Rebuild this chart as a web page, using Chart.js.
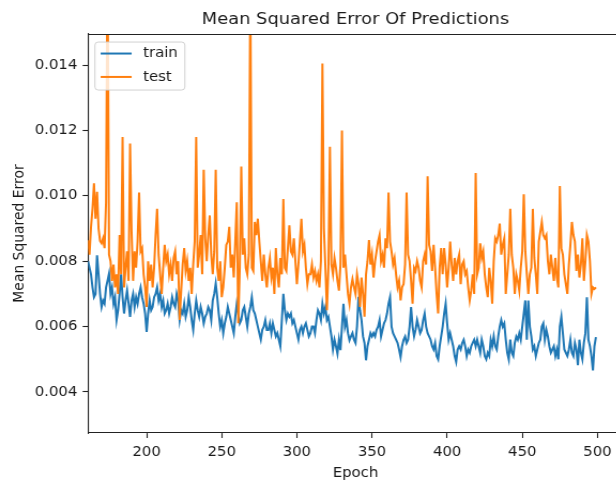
<!DOCTYPE html>
<html>
<head>
<meta charset="utf-8">
<script src="https://cdn.jsdelivr.net/npm/chart.js@4.4.0/dist/chart.umd.min.js"></script>
<style>
html,body{margin:0;padding:0;overflow:hidden;background:#fff;width:616px;height:486px;}
canvas{display:block;transform:scaleX(1.07);transform-origin:0 0;}
</style>
</head>
<body>
<canvas id="c" width="600" height="486"></canvas>
<script>
const firstEpoch = 161;
const xTicks = [200, 250, 300, 350, 400, 450, 500];
const yTicks = [0.004, 0.006, 0.008, 0.010, 0.012, 0.014];
const seriesNames = ["train", "test"];

const trainMSE = [
0.00800,0.00780,0.00760,0.00720,0.00690,0.00700,0.00818,0.00760,0.00700,0.00660,
0.00680,0.00670,0.00720,0.00740,0.00762,0.00700,0.00720,0.00670,0.00690,0.00620,
0.00650,0.00700,0.00760,0.00690,0.00640,0.00680,0.00710,0.00670,0.00630,0.00680,
0.00700,0.00660,0.00690,0.00670,0.00700,0.00720,0.00690,0.00670,0.00640,0.00584,
0.00640,0.00680,0.00650,0.00660,0.00690,0.00700,0.00720,0.00680,0.00700,0.00660,
0.00680,0.00640,0.00650,0.00670,0.00640,0.00660,0.00690,0.00670,0.00660,0.00700,
0.00680,0.00620,0.00650,0.00640,0.00670,0.00630,0.00650,0.00690,0.00660,0.00620,
0.00590,0.00640,0.00680,0.00650,0.00630,0.00660,0.00640,0.00610,0.00630,0.00640,
0.00660,0.00650,0.00620,0.00680,0.00700,0.00732,0.00690,0.00640,0.00600,0.00620,
0.00580,0.00610,0.00630,0.00660,0.00640,0.00620,0.00600,0.00580,0.00630,0.00670,
0.00640,0.00610,0.00620,0.00650,0.00660,0.00630,0.00600,0.00640,0.00660,0.00690,
0.00650,0.00640,0.00620,0.00600,0.00580,0.00560,0.00590,0.00600,0.00620,0.00590,
0.00590,0.00610,0.00580,0.00610,0.00590,0.00570,0.00580,0.00560,0.00540,0.00620,
0.00700,0.00650,0.00620,0.00640,0.00630,0.00640,0.00610,0.00620,0.00600,0.00580,
0.00560,0.00590,0.00600,0.00580,0.00600,0.00610,0.00590,0.00570,0.00580,0.00600,
0.00600,0.00580,0.00620,0.00650,0.00640,0.00620,0.00670,0.00640,0.00660,0.00620,
0.00630,0.00600,0.00570,0.00530,0.00560,0.00540,0.00517,0.00560,0.00528,0.00600,
0.00670,0.00600,0.00620,0.00580,0.00558,0.00570,0.00580,0.00560,0.00550,0.00600,
0.00691,0.00650,0.00620,0.00570,0.00550,0.00497,0.00540,0.00560,0.00580,0.00570,
0.00580,0.00570,0.00590,0.00600,0.00620,0.00570,0.00590,0.00610,0.00620,0.00640,
0.00670,0.00690,0.00600,0.00580,0.00570,0.00560,0.00550,0.00530,0.00507,0.00540,
0.00560,0.00570,0.00550,0.00560,0.00600,0.00660,0.00600,0.00570,0.00590,0.00620,
0.00600,0.00580,0.00590,0.00620,0.00640,0.00600,0.00580,0.00570,0.00560,0.00540,
0.00530,0.00550,0.00510,0.00500,0.00540,0.00570,0.00600,0.00640,0.00670,0.00610,
0.00560,0.00580,0.00560,0.00540,0.00510,0.00492,0.00530,0.00540,0.00530,0.00550,
0.00560,0.00540,0.00510,0.00530,0.00520,0.00540,0.00550,0.00560,0.00540,0.00560,
0.00540,0.00520,0.00560,0.00540,0.00510,0.00500,0.00520,0.00510,0.00560,0.00540,
0.00570,0.00540,0.00530,0.00570,0.00600,0.00620,0.00600,0.00610,0.00560,0.00520,
0.00500,0.00560,0.00520,0.00510,0.00550,0.00570,0.00560,0.00580,0.00560,0.00600,
0.00640,0.00680,0.00560,0.00680,0.00600,0.00570,0.00530,0.00540,0.00510,0.00530,
0.00550,0.00560,0.00600,0.00610,0.00560,0.00590,0.00570,0.00540,0.00520,0.00530,
0.00540,0.00510,0.00530,0.00500,0.00600,0.00630,0.00580,0.00530,0.00520,0.00510,
0.00530,0.00560,0.00520,0.00510,0.00550,0.00530,0.00482,0.00560,0.00520,0.00500,
0.00550,0.00580,0.00690,0.00560,0.00540,0.00510,0.00466,0.00540,0.00568
];

const testMSE = [
0.00864,0.00820,0.00905,0.00960,0.01038,0.00930,0.01012,0.00900,0.00862,0.00855,
0.00870,0.00840,0.00980,0.01750,0.00820,0.00800,0.00740,0.00790,0.00720,0.00760,
0.00700,0.00880,0.00760,0.01180,0.00720,0.00780,0.00830,0.00740,0.01160,0.00890,
0.00740,0.00830,0.00780,0.00860,0.01010,0.00830,0.00840,0.00760,0.00720,0.00660,
0.00800,0.00740,0.00790,0.00720,0.00780,0.00880,0.00960,0.00820,0.00760,0.00700,
0.00780,0.00850,0.00800,0.00820,0.00760,0.00790,0.00740,0.00810,0.00830,0.00760,
0.00800,0.00620,0.00710,0.00790,0.00840,0.00770,0.00800,0.00740,0.00780,0.00700,
0.00790,0.00860,0.01180,0.00780,0.00820,0.00880,0.00760,0.01080,0.00870,0.00800,
0.00880,0.00940,0.00820,0.00760,0.00830,0.01080,0.00780,0.00740,0.00800,0.00690,
0.00720,0.00780,0.00850,0.00860,0.00905,0.00780,0.00820,0.00750,0.00860,0.00980,
0.00610,0.00780,0.01090,0.00820,0.00870,0.00780,0.00760,0.00820,0.01650,0.00780,
0.00770,0.00920,0.00880,0.00930,0.00860,0.00800,0.00740,0.00820,0.00760,0.00720,
0.00780,0.00810,0.00750,0.00780,0.00700,0.00840,0.00760,0.00720,0.00810,0.00760,
0.00990,0.00780,0.00770,0.00840,0.00910,0.00830,0.00820,0.00870,0.00800,0.00730,
0.00790,0.00860,0.00930,0.00830,0.00850,0.00780,0.00730,0.00760,0.00760,0.00790,
0.00750,0.00770,0.00740,0.00760,0.00720,0.00800,0.01405,0.00900,0.00780,0.00650,
0.00780,0.01150,0.00790,0.00760,0.00810,0.00780,0.00740,0.00710,0.00790,0.01200,
0.00780,0.00820,0.00760,0.00700,0.00670,0.00720,0.00745,0.00720,0.00700,0.00760,
0.00730,0.00660,0.00750,0.00700,0.00630,0.00760,0.00800,0.00865,0.00790,0.00820,
0.00750,0.00800,0.00830,0.00860,0.00880,0.00800,0.00820,0.00780,0.00870,0.00840,
0.01010,0.00860,0.00830,0.00790,0.00810,0.00760,0.00720,0.00740,0.00680,0.00720,
0.00730,0.00790,0.01010,0.00820,0.00800,0.00740,0.00670,0.00780,0.00770,0.00800,
0.00780,0.00740,0.00720,0.00800,0.00820,0.00790,0.01060,0.00850,0.00830,0.00770,
0.00850,0.00780,0.00700,0.00640,0.00780,0.00840,0.00760,0.00840,0.00790,0.00720,
0.00780,0.00860,0.00790,0.00740,0.00810,0.00760,0.00800,0.00820,0.00730,0.00790,
0.00800,0.00760,0.00770,0.00720,0.00680,0.00710,0.00760,0.00700,0.01070,0.00760,
0.00780,0.00855,0.00810,0.00830,0.00760,0.00720,0.00690,0.00780,0.00740,0.00670,
0.00800,0.00870,0.00860,0.00880,0.00915,0.00820,0.00850,0.00870,0.00700,0.00760,
0.00820,0.00960,0.00820,0.00780,0.00700,0.00760,0.00740,0.00710,0.00780,0.00830,
0.01005,0.00830,0.00760,0.00700,0.00760,0.00780,0.00960,0.00810,0.00760,0.00700,
0.00860,0.00890,0.00920,0.00880,0.00870,0.00880,0.00800,0.00760,0.00820,0.00780,
0.00740,0.00810,0.00750,0.00720,0.01030,0.00840,0.00820,0.00760,0.00730,0.00700,
0.00790,0.00850,0.00920,0.00880,0.00860,0.00770,0.00820,0.00750,0.00790,0.00870,
0.00740,0.00800,0.00880,0.00860,0.00800,0.00700,0.00720,0.00715,0.00720
];

const colors = { train: '#1f77b4', test: '#ff7f0e' };
const FONT = 'DejaVu Sans';
const TXT = '#1a1a1a';
const AX = '#222';

function toPoints(arr) { return arr.map((v, i) => ({ x: firstEpoch + i, y: v })); }

const framePlugin = {
  id: 'frame',
  afterDatasetsDraw(chart) {
    const { ctx, chartArea: a } = chart;
    ctx.save();
    ctx.strokeStyle = AX;
    ctx.lineWidth = 1.1;
    ctx.beginPath();
    ctx.moveTo(a.left, a.top + 0.5);
    ctx.lineTo(a.right, a.top + 0.5);
    ctx.moveTo(a.right - 0.5, a.top);
    ctx.lineTo(a.right - 0.5, a.bottom);
    ctx.stroke();
    // legend (upper left, inside the axes)
    const x0 = a.left + 6.5, y0 = a.top + 8, w = 84, h = 48, r = 3;
    ctx.beginPath();
    ctx.moveTo(x0 + r, y0);
    ctx.arcTo(x0 + w, y0, x0 + w, y0 + h, r);
    ctx.arcTo(x0 + w, y0 + h, x0, y0 + h, r);
    ctx.arcTo(x0, y0 + h, x0, y0, r);
    ctx.arcTo(x0, y0, x0 + w, y0, r);
    ctx.closePath();
    ctx.fillStyle = 'rgba(255,255,255,0.8)';
    ctx.fill();
    ctx.strokeStyle = 'rgba(204,204,204,0.9)';
    ctx.lineWidth = 1;
    ctx.stroke();
    ctx.font = '13.9px "' + FONT + '"';
    ctx.textBaseline = 'middle';
    ctx.textAlign = 'left';
    seriesNames.forEach((name, i) => {
      const yy = y0 + 11.5 + i * 23.4;
      ctx.strokeStyle = colors[name];
      ctx.lineWidth = 2;
      ctx.beginPath();
      ctx.moveTo(x0 + 5.3, yy);
      ctx.lineTo(x0 + 34.3, yy);
      ctx.stroke();
      ctx.fillStyle = TXT;
      ctx.fillText(name, x0 + 45, yy);
    });
    ctx.restore();
  }
};

new Chart(document.getElementById('c'), {
  type: 'line',
  data: {
    datasets: [
      { label: seriesNames[0], data: toPoints(trainMSE), borderColor: colors.train, backgroundColor: colors.train,
        borderWidth: 2, pointRadius: 0, tension: 0, order: 1 },
      { label: seriesNames[1], data: toPoints(testMSE), borderColor: colors.test, backgroundColor: colors.test,
        borderWidth: 2, pointRadius: 0, tension: 0, order: 0 }
    ]
  },
  options: {
    responsive: false,
    animation: false,
    devicePixelRatio: 1,
    layout: { padding: { left: 0, right: 17.8, top: 0, bottom: 0 } },
    plugins: {
      legend: { display: false },
      tooltip: { enabled: false },
      title: {
        display: true, text: 'Mean Squared Error Of Predictions', fullSize: false,
        color: TXT, font: { family: FONT, size: 16.7, weight: 'normal' },
        padding: { top: 9.4, bottom: 4.6 }
      }
    },
    scales: {
      x: {
        type: 'linear', min: 161, max: 517,
        afterBuildTicks: s => { s.ticks = xTicks.map(v => ({ value: v })); },
        afterFit: s => { s.height = 53; },
        grid: { drawOnChartArea: false, drawTicks: true, tickLength: 5, tickWidth: 1.1, tickColor: AX },
        border: { display: true, color: AX, width: 1.1 },
        ticks: { color: TXT, font: { family: FONT, size: 13.9 }, padding: 5.6, maxRotation: 0, autoSkip: false,
                 callback: v => String(v) },
        title: { display: true, text: 'Epoch', color: TXT, font: { family: FONT, size: 13.9 }, padding: { top: 0, bottom: 4.4 } }
      },
      y: {
        type: 'linear', min: 0.002746, max: 0.014948,
        afterBuildTicks: s => { s.ticks = yTicks.map(v => ({ value: v })); },
        afterFit: s => { s.width = 82.24; },
        grid: { drawOnChartArea: false, drawTicks: true, tickLength: 5, tickWidth: 1.1, tickColor: AX },
        border: { display: true, color: AX, width: 1.1 },
        ticks: { color: TXT, font: { family: FONT, size: 13.9 }, padding: 5, autoSkip: false,
                 callback: v => v.toFixed(3) },
        title: { display: true, text: 'Mean Squared Error', color: TXT, font: { family: FONT, size: 13.9 }, padding: { top: 10.5, bottom: 0 } }
      }
    }
  },
  plugins: [framePlugin]
});
</script>
</body>
</html>
